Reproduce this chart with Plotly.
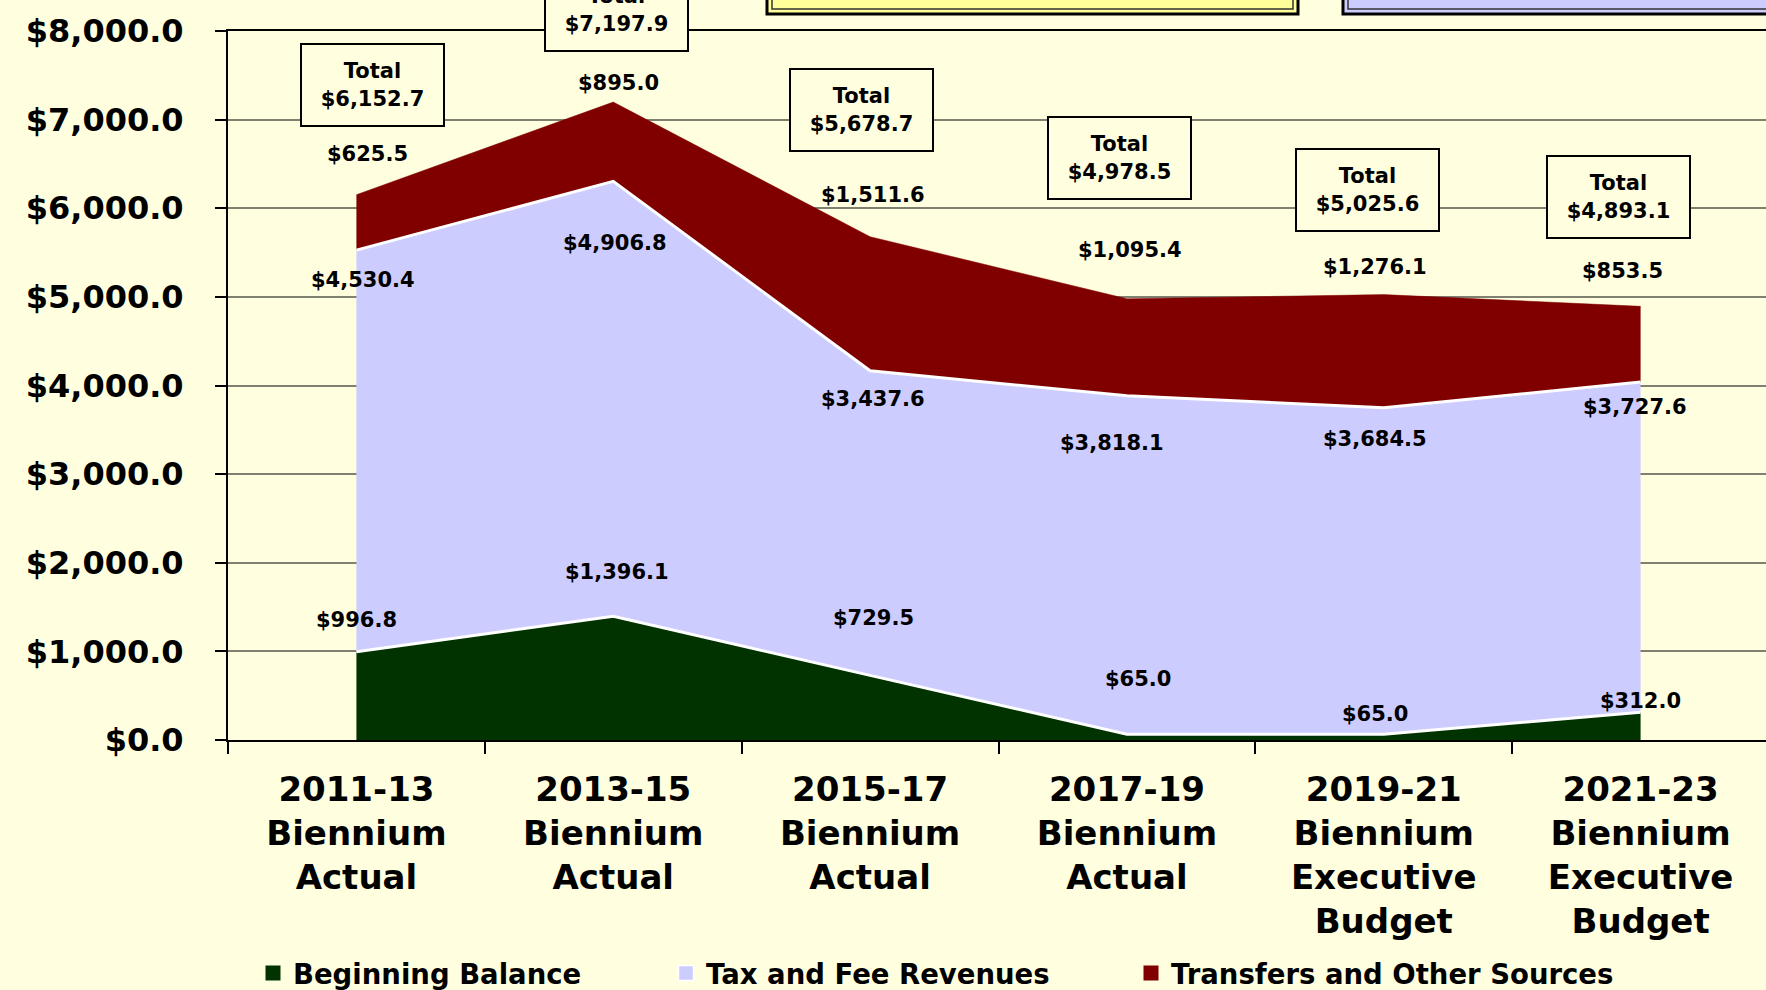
import plotly.graph_objects as go

# ---------------- data ----------------
categories = [
    "2011-13<br>Biennium<br>Actual",
    "2013-15<br>Biennium<br>Actual",
    "2015-17<br>Biennium<br>Actual",
    "2017-19<br>Biennium<br>Actual",
    "2019-21<br>Biennium<br>Executive<br>Budget",
    "2021-23<br>Biennium<br>Executive<br>Budget",
]
beginning_balance = [996.8, 1396.1, 729.5, 65.0, 65.0, 312.0]
tax_fee_revenues = [4530.4, 4906.8, 3437.6, 3818.1, 3684.5, 3727.6]
transfers_other = [625.5, 895.0, 1511.6, 1095.4, 1276.1, 853.5]
totals = [6152.7, 7197.9, 5678.7, 4978.5, 5025.6, 4893.1]
series_names = ["Beginning Balance", "Tax and Fee Revenues", "Transfers and Other Sources"]

# ---------------- label offsets (pixels) ----------------
bb_dx = [0, 4, 3, 11, -9, 0]
bb_dy = [32, 44, 57, 55, 20, 11]
tax_dx = [7, 2, 3, -15, -9, -6]
tax_dy = [-30, -62, -28, -47, -31, -25]
tr_dx = [11, 5, 3, 3, -9, -18]
tr_dy = [41, 19, 42, 49, 28, 35]
tot_dx = [16, 3, -9, -7, -16, -22]
tot_dy = [110, 92, 127, 141, 105, 109]

# ---------------- styles ----------------
BG = "#FFFFE0"
GREEN = "#003300"
LAV = "#CCCCFF"
RED = "#800000"
FONT = "DejaVu Sans"
W, H = 1766, 990
ML, MT, MB = 228, 31, 250

fig = go.Figure()

fig.add_trace(go.Scatter(
    x=categories, y=beginning_balance, stackgroup="s", mode="lines",
    line=dict(color="white", width=3), fillcolor=GREEN, showlegend=False,
    name=series_names[0]))
fig.add_trace(go.Scatter(
    x=categories, y=tax_fee_revenues, stackgroup="s", mode="lines",
    line=dict(color="white", width=3), fillcolor=LAV, showlegend=False,
    name=series_names[1]))
fig.add_trace(go.Scatter(
    x=categories, y=transfers_other, stackgroup="s", mode="lines",
    line=dict(color=RED, width=0.5), fillcolor=RED, showlegend=False,
    name=series_names[2]))

# legend entries (square markers), each in its own legend for placement
leg_colors = [GREEN, LAV, RED]
leg_ids = ["legend", "legend2", "legend3"]
for nm, c, lid in zip(series_names, leg_colors, leg_ids):
    fig.add_trace(go.Scatter(
        x=[None], y=[None], mode="markers", name=nm, legend=lid,
        marker=dict(symbol="square", size=15, color=c,
                    line=dict(color="white", width=1.5 if c == LAV else 0)),
        showlegend=True))

legend_x_px = [253, 666, 1131]
leg_font = dict(family=FONT, size=27.5, color="black", weight="bold")
for lid, xp in zip(leg_ids, legend_x_px):
    fig.update_layout(**{lid: dict(
        orientation="h", xref="container", yref="container",
        x=xp / W, y=1 - 973 / H, xanchor="left", yanchor="middle",
        bgcolor="rgba(0,0,0,0)", font=leg_font, itemwidth=30,
        borderwidth=0)})

# data labels
lbl_font = dict(family=FONT, size=21, color="black", weight="bold")
cum1 = [a for a in beginning_balance]
cum2 = [a + b for a, b in zip(beginning_balance, tax_fee_revenues)]
cum3 = [a + b + c for a, b, c in zip(beginning_balance, tax_fee_revenues, transfers_other)]

def fmt(v):
    return "$" + f"{v:,.1f}"

for i, cat in enumerate(categories):
    for vals, anchor, dx, dy in (
        (beginning_balance, cum1, bb_dx, bb_dy),
        (tax_fee_revenues, cum2, tax_dx, tax_dy),
        (transfers_other, cum3, tr_dx, tr_dy),
    ):
        fig.add_annotation(x=cat, y=anchor[i], xref="x", yref="y",
                           text=fmt(vals[i]), showarrow=False,
                           xshift=dx[i], yshift=dy[i], font=lbl_font)
    fig.add_annotation(x=cat, y=cum3[i], xref="x", yref="y",
                       text="Total<br>" + fmt(totals[i]), showarrow=False,
                       xshift=tot_dx[i], yshift=tot_dy[i], font=lbl_font,
                       bgcolor=BG, bordercolor="black", borderwidth=2,
                       borderpad=0, width=141, height=80)

# decorative boxes at the top (cut off)
plot_w = W - ML
plot_h = H - MT - MB

def px_x(p):
    return (p - ML) / plot_w

def px_y(p):
    return (H - MB - p) / plot_h

for (x0, x1, fill) in ((767, 1298, "#FFFF99"), (1343, 1800, LAV)):
    fig.add_shape(type="rect", xref="paper", yref="paper",
                  x0=px_x(x0), x1=px_x(x1), y0=px_y(14), y1=px_y(-20),
                  fillcolor=fill, line=dict(color="black", width=3), layer="above")
    fig.add_shape(type="rect", xref="paper", yref="paper",
                  x0=px_x(x0 + 5), x1=px_x(x1 - 5), y0=px_y(9), y1=px_y(-20),
                  fillcolor="rgba(0,0,0,0)", line=dict(color="#333333", width=1.5), layer="above")

fig.update_xaxes(
    type="category", categoryorder="array", categoryarray=categories,
    range=[-0.5, -0.5 + 6 * plot_w / 1541], tickson="boundaries",
    ticks="outside", ticklen=12, tickcolor="black", tickwidth=1.5,
    showline=True, linecolor="black", linewidth=2, mirror=True,
    showgrid=False, ticklabelstandoff=18,
    tickfont=dict(family=FONT, size=34, color="black", weight="bold"))
fig.update_yaxes(
    range=[0, 8000], dtick=1000, tickformat="$,.1f",
    ticks="outside", ticklen=11, tickcolor="black", tickwidth=1.5,
    showline=True, linecolor="black", linewidth=2, mirror=False,
    showgrid=True, gridcolor="#808070", gridwidth=1.5, zeroline=False,
    ticklabelstandoff=25,
    tickfont=dict(family=FONT, size=32, color="black", weight="bold"))

fig.update_layout(
    width=W, height=H, autosize=False,
    margin=dict(l=ML, r=0, t=MT, b=MB, pad=0),
    paper_bgcolor=BG, plot_bgcolor=BG,
    font=dict(family=FONT, color="black"),
)

fig.write_html(
    "out.html",
    config={"displayModeBar": False},
    post_script="document.body.style.margin='0';document.body.style.overflow='hidden';",
)
